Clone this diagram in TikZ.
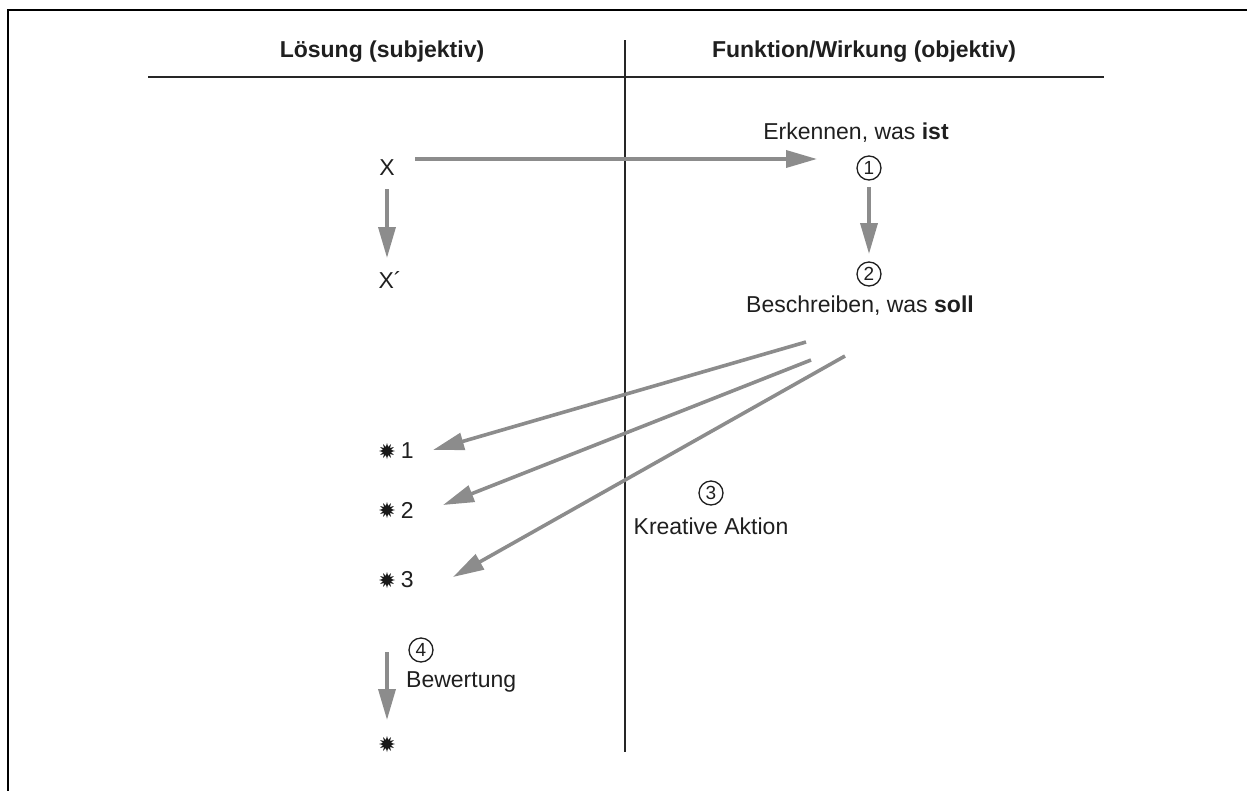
\documentclass[tikz,border=0pt]{standalone}
\usepackage{fontspec}
\setmainfont{Liberation Sans}
\usetikzlibrary{arrows.meta,positioning,shapes.geometric}

\begin{document}
\begin{tikzpicture}[
  x=1pt, y=-1pt,
  txt/.style={inner sep=0pt, font=\fontsize{23pt}{27pt}\selectfont, align=center, text=black!88},
  head/.style={txt, font=\fontsize{23pt}{27pt}\selectfont\bfseries},
  num/.style={circle, draw=black!88, line width=1.3pt, minimum size=24pt, inner sep=0pt, text=black!88, font=\fontsize{19pt}{19pt}\selectfont},
  burst/.style={star, star points=12, star point ratio=1.9, fill=black!90, minimum size=16pt, inner sep=0pt},
  rule/.style={line width=1.6pt, black!85},
  arr/.style={-{Triangle[length=31pt,width=17pt]}, line width=3.6pt, black!45}
]
\useasboundingbox (0,0) rectangle (1247,790);
% frame and table rules
\draw[line width=2.6pt] (8,795) -- (8,10) -- (1252,10);
\draw[rule] (148,77) -- (1104,77);
\draw[rule] (625,40) -- (625,752);
\node[head] (hl) at (382,52) {Lösung (subjektiv)};
\node[head] (hr) at (864,52) {Funktion/Wirkung (objektiv)};

% left column
\node[txt] (x) at (387,168) {X};
\node[txt] (xp) at (390,280) {X´};
\node[burst] (s1) at (387,451) {};
\node[burst] (s2) at (387,510) {};
\node[burst] (s3) at (387,580) {};
\node[txt, right=5pt of s1] (n1) {1};
\node[txt, right=5pt of s2] (n2) {2};
\node[txt, right=5pt of s3] (n3) {3};
\node[burst] (s) at (387,744) {};
\node[num] (c4) at (421,650) {4};
\node[txt, anchor=west] (bew) at (406,682) {Bewertung};

% right column
\node[txt] (erk) at (856,133) {Erkennen, was \textbf{ist}};
\node[num] (c1) at (869,168) {1};
\node[num] (c2) at (869,274) {2};
\node[txt] (bes) at (860,306) {Beschreiben, was \textbf{soll}};
\node[num] (c3) at (711,493) {3};
\node[txt] (kre) at (711,526) {Kreative Aktion};

% free ends of the arrows
\coordinate (xa) at (415,159);
\coordinate (xb) at (817,159);
\coordinate (xd1) at (387,189);
\coordinate (xd2) at (387,258);
\coordinate (cd1) at (869,187);
\coordinate (cd2) at (869,254);
\coordinate (sd1) at (387,652);
\coordinate (sd2) at (387,720);
\coordinate (b1) at (806,342);
\coordinate (b2) at (811,360);
\coordinate (b3) at (845,356);
\coordinate (t1) at (433,450);
\coordinate (t2) at (443,505);
\coordinate (t3) at (453,577);

\draw[arr] (xa) -- (xb);
\draw[arr] (xd1) -- (xd2);
\draw[arr] (cd1) -- (cd2);
\draw[arr] (b1) -- (t1);
\draw[arr] (b2) -- (t2);
\draw[arr] (b3) -- (t3);
\draw[arr] (sd1) -- (sd2);
\end{tikzpicture}
\end{document}
